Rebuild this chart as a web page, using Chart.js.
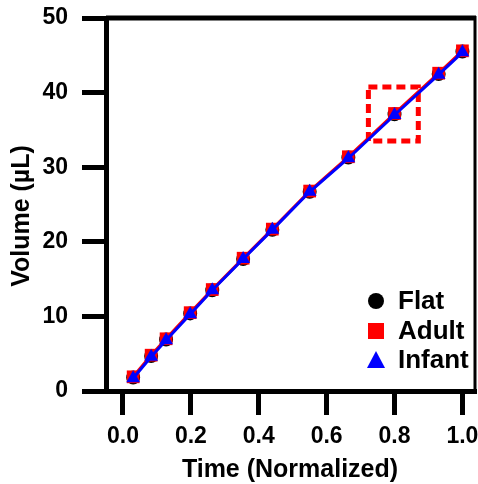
<!DOCTYPE html>
<html>
<head>
<meta charset="utf-8">
<script src="https://cdn.jsdelivr.net/npm/chart.js@4"></script>
<style>
  html, body { margin: 0; padding: 0; background: #fff; }
  #wrap { width: 478px; height: 484px; }
</style>
</head>
<body>
<div id="wrap"><canvas id="chart" width="478" height="484"></canvas></div>
<script>
// ── data ──────────────────────────────────────────────
const timeNorm = [0.03, 0.083, 0.127, 0.198, 0.263, 0.354, 0.44, 0.55, 0.664, 0.80, 0.93, 1.0];
const flatVol   = [1.8, 4.7, 6.9, 10.4, 13.5, 17.7, 21.6, 26.7, 31.3, 37.1, 42.5, 45.5];
const adultVol  = [1.9, 4.8, 7.0, 10.5, 13.6, 17.8, 21.7, 26.8, 31.4, 37.2, 42.6, 45.6];
const infantVol = [1.7, 4.6, 6.8, 10.3, 13.5, 17.7, 21.6, 26.7, 31.2, 37.0, 42.4, 45.4];
const seriesNames = ['Flat', 'Adult', 'Infant'];
const xTicks = [0, 0.2, 0.4, 0.6, 0.8, 1.0];
const yTicks = [0, 10, 20, 30, 40, 50];
// highlighted region (dashed box)
const boxX = [0.723, 0.870, 0.870, 0.723, 0.723];
const boxY = [40.75, 40.75, 33.5, 33.5, 40.75];

const COLORS = { flat: '#000000', adult: '#ff0000', infant: '#0000ff', axis: '#000000' };
const FONT = 'Arial, "Liberation Sans", sans-serif';

const pts = ys => timeNorm.map((x, i) => ({ x, y: ys[i] }));

// frame (top/right), axis titles and in-plot legend
const extras = {
  id: 'extras',
  beforeDatasetsDraw(chart) {
    const { ctx, chartArea: a } = chart;
    ctx.save();
    ctx.strokeStyle = COLORS.axis;
    ctx.lineWidth = 5;
    ctx.beginPath();
    ctx.moveTo(a.left, a.top);
    ctx.lineTo(a.right, a.top);
    ctx.stroke();
    ctx.lineWidth = 3;
    ctx.beginPath();
    ctx.moveTo(a.right - 1, a.top - 2);
    ctx.lineTo(a.right - 1, a.bottom);
    ctx.stroke();
    ctx.restore();
  },
  afterDraw(chart) {
    const { ctx } = chart;
    ctx.save();
    ctx.fillStyle = '#000';
    ctx.font = `bold 25px ${FONT}`;
    ctx.textAlign = 'center';
    ctx.textBaseline = 'middle';
    ctx.fillText('Time (Normalized)', 290, 470);
    ctx.translate(22, 216);
    ctx.rotate(-Math.PI / 2);
    ctx.fillText('Volume (µL)', 0, 0);
    ctx.restore();

    // legend
    const styles = [
      { c: COLORS.flat, s: 'circle' },
      { c: COLORS.adult, s: 'rect' },
      { c: COLORS.infant, s: 'triangle' },
    ];
    const rowY = [301, 331, 360];
    ctx.save();
    ctx.font = `bold 26px ${FONT}`;
    ctx.textAlign = 'left';
    ctx.textBaseline = 'middle';
    seriesNames.forEach((name, i) => {
      const cx = 376, cy = rowY[i];
      ctx.fillStyle = styles[i].c;
      ctx.beginPath();
      if (styles[i].s === 'circle') ctx.arc(cx, cy, 8, 0, Math.PI * 2);
      else if (styles[i].s === 'rect') ctx.rect(cx - 8, cy - 8, 16, 16);
      else { ctx.moveTo(cx, cy - 9); ctx.lineTo(cx + 9, cy + 8); ctx.lineTo(cx - 9, cy + 8); ctx.closePath(); }
      ctx.fill();
      ctx.fillStyle = '#000';
      ctx.fillText(name, 398, cy + 1);
    });
    ctx.restore();
  },
};

new Chart(document.getElementById('chart'), {
  type: 'scatter',
  data: {
    datasets: [
      {
        label: 'box', data: boxX.map((x, i) => ({ x, y: boxY[i] })),
        showLine: true, borderColor: COLORS.adult, borderWidth: 5, borderDash: [9, 5],
        pointRadius: 0, fill: false, order: 4,
      },
      {
        label: seriesNames[0], data: pts(flatVol), showLine: true,
        borderColor: COLORS.flat, backgroundColor: COLORS.flat, borderWidth: 2,
        pointStyle: 'circle', pointRadius: 6, order: 3,
      },
      {
        label: seriesNames[1], data: pts(adultVol), showLine: true,
        borderColor: COLORS.adult, backgroundColor: COLORS.adult, borderWidth: 3,
        pointStyle: 'rect', pointRadius: 9, pointBorderWidth: 0, order: 2,
      },
      {
        label: seriesNames[2], data: pts(infantVol), showLine: true,
        borderColor: COLORS.infant, backgroundColor: COLORS.infant, borderWidth: 3,
        pointStyle: 'triangle', pointRadius: 8, pointBorderWidth: 0, order: 1,
      },
    ],
  },
  options: {
    responsive: false, animation: false,
    layout: { autoPadding: false, padding: { top: 18, right: 2, left: 0, bottom: 0 } },
    plugins: { legend: { display: false }, tooltip: { enabled: false } },
    scales: {
      x: {
        type: 'linear', min: -0.05, max: 1.04,
        afterFit: s => { s.height = 93; s.paddingLeft = 0; s.paddingRight = 0; },
        afterBuildTicks: s => { s.ticks = xTicks.map(v => ({ value: v })); },
        grid: { drawOnChartArea: false, tickLength: 24, tickWidth: 5, color: COLORS.axis },
        border: { width: 5, color: COLORS.axis },
        ticks: {
          padding: 8, color: '#000', maxRotation: 0,
          font: { family: FONT, size: 23, weight: 'bold' },
          callback: v => v.toFixed(1),
        },
      },
      y: {
        type: 'linear', min: 0, max: 50,
        afterFit: s => { s.width = 106; s.paddingTop = 0; s.paddingBottom = 0; },
        afterBuildTicks: s => { s.ticks = yTicks.map(v => ({ value: v })); },
        grid: { drawOnChartArea: false, tickLength: 24, tickWidth: 5, color: COLORS.axis },
        border: { width: 5, color: COLORS.axis },
        ticks: {
          padding: 14, color: '#000',
          font: { family: FONT, size: 23, weight: 'bold' },
          callback: v => String(v),
        },
      },
    },
  },
  plugins: [extras],
});
</script>
</body>
</html>
